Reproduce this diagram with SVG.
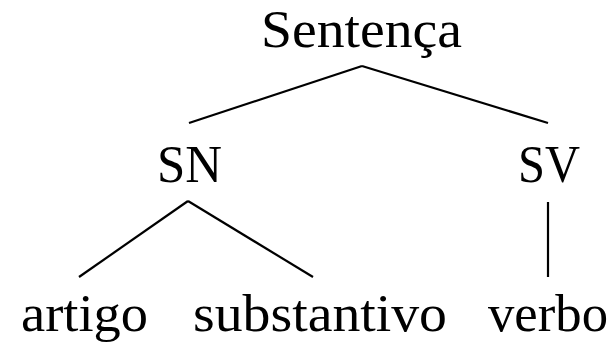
<svg xmlns="http://www.w3.org/2000/svg" width="615" height="343" viewBox="0 0 615 343">
<style>
text { font-family: "Liberation Serif", "Times New Roman", serif; font-size: 52px; fill: #000; text-anchor: middle; }
.edge { stroke: #000; stroke-width: 2.2; fill: none; }
</style>
<rect width="615" height="343" fill="#fff"/>
<g id="connectors">
<line class="edge" x1="362" y1="66" x2="189" y2="123"/>
<line class="edge" x1="362" y1="66" x2="548" y2="123"/>
<line class="edge" x1="188" y1="201" x2="79" y2="277"/>
<line class="edge" x1="188" y1="201" x2="313" y2="277"/>
<line class="edge" x1="548" y1="202" x2="548" y2="277"/>
</g>
<g id="sentenca"><text x="361.5" y="47" textLength="201" lengthAdjust="spacingAndGlyphs">Sentença</text></g>
<g id="sn"><text x="189.5" y="182" textLength="65" lengthAdjust="spacingAndGlyphs">SN</text></g>
<g id="sv"><text x="549" y="182" textLength="62" lengthAdjust="spacingAndGlyphs">SV</text></g>
<g id="artigo"><text x="84.5" y="331" textLength="127" lengthAdjust="spacingAndGlyphs">artigo</text></g>
<g id="substantivo"><text x="320" y="331" textLength="254" lengthAdjust="spacingAndGlyphs">substantivo</text></g>
<g id="verbo"><text x="548" y="331" textLength="120" lengthAdjust="spacingAndGlyphs">verbo</text></g>
</svg>
